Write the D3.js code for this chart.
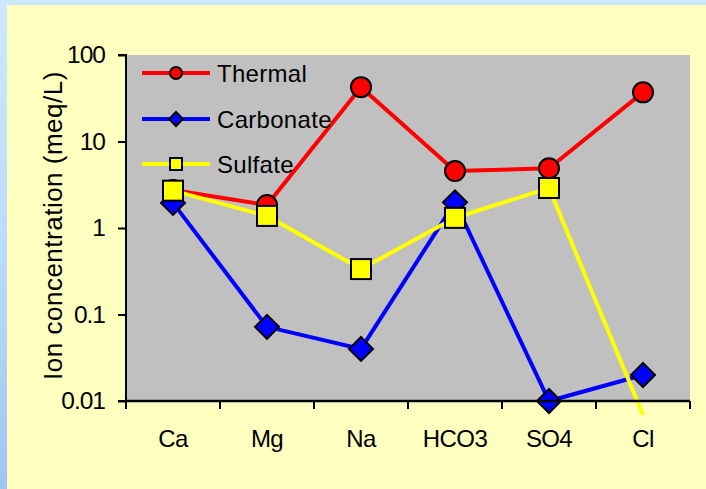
<!DOCTYPE html>
<html><head><meta charset="utf-8">
<script src="https://cdn.jsdelivr.net/npm/d3@7"></script>
<style>
html,body{margin:0;padding:0;width:706px;height:489px;overflow:hidden;
background:linear-gradient(to bottom,#cce8ff 0%,#bcdcff 50%,#9ec6f2 100%);}
svg{display:block;font-family:Arial,"Liberation Sans",sans-serif;}
</style></head><body>
<svg id="c" width="706" height="489"></svg>
<script>
const categories = ["Ca","Mg","Na","HCO3","SO4","Cl"];
const thermal   = [2.75, 1.84, 42.5, 4.55, 4.9, 37];
const carbonate = [1.95, 0.072, 0.040, 1.98, 0.010, 0.020];
const sulfate   = [2.7, 1.38, 0.335, 1.31, 2.9, 0.0069];
const yTicks = [0.01, 0.1, 1, 10, 100];
const yTickLabels = ["0.01","0.1","1","10","100"];
const seriesNames = ["Thermal","Carbonate","Sulfate"];

const svg = d3.select("#c");
svg.append("rect").attr("x",7).attr("y",5).attr("width",699).attr("height",484).attr("fill","#ffffc0");

const L=126, R=690, T=55, B=401;
const x = d3.scaleBand().domain(categories).range([L,R]);
const y = d3.scaleLog().domain([0.01,100]).range([B,T]);

svg.append("rect").attr("x",L).attr("y",T).attr("width",R-L).attr("height",B-T).attr("fill","#c0c0c0");

const series = [
  {name:seriesNames[0], values:thermal, color:"#ff0000", shape:"circle"},
  {name:seriesNames[1], values:carbonate, color:"#0000ff", shape:"diamond"},
  {name:seriesNames[2], values:sulfate, color:"#ffff00", shape:"square"}
];

function marker(g, shape, cx, cy, s, fill){
  if(shape==="circle"){
    g.append("circle").attr("cx",cx).attr("cy",cy).attr("r",s).attr("fill",fill).attr("stroke","#000").attr("stroke-width",2);
  } else if(shape==="diamond"){
    g.append("path").attr("d",`M${cx},${cy-s}L${cx+s},${cy}L${cx},${cy+s}L${cx-s},${cy}Z`).attr("fill",fill).attr("stroke","#000").attr("stroke-width",2).attr("stroke-linejoin","miter");
  } else {
    g.append("rect").attr("x",cx-s).attr("y",cy-s).attr("width",2*s).attr("height",2*s).attr("fill",fill).attr("stroke","#000").attr("stroke-width",2);
  }
}
const size = {circle:10, diamond:12, square:10};

const line = d3.line().x((d,i)=>x(categories[i])+x.bandwidth()/2).y(d=>y(d));
series.forEach(s=>{
  const g = svg.append("g");
  g.append("path").attr("d",line(s.values)).attr("fill","none").attr("stroke",s.color).attr("stroke-width",4);
  s.values.forEach((v,i)=>{
    if(v>=0.01) marker(g, s.shape, x(categories[i])+x.bandwidth()/2, y(v), size[s.shape], s.color);
  });
});

// axes
const yAxis = d3.axisLeft(y).tickValues(yTicks).tickFormat((d,i)=>yTickLabels[i]).tickSize(8).tickPadding(13);
const ga = svg.append("g").attr("transform",`translate(${L},0)`).call(yAxis);
ga.select(".domain").attr("stroke","#000").attr("stroke-width",2).attr("d",`M-8,${T}H0V${B}H-8`);
ga.selectAll(".tick line").attr("stroke","#000").attr("stroke-width",2);
ga.selectAll(".tick text").attr("font-size",24.5).attr("fill","#000").attr("font-family","Arial, 'Liberation Sans', sans-serif").attr("letter-spacing","-1");

const xAxis = d3.axisBottom(x).tickSize(0).tickPadding(29);
const gx = svg.append("g").attr("transform",`translate(0,${B})`).call(xAxis);
gx.select(".domain").attr("stroke","#000").attr("stroke-width",2.5).attr("d",`M${L},0H${R}`);
gx.selectAll(".tick text").attr("font-size",24).attr("fill","#000").attr("font-family","Arial, 'Liberation Sans', sans-serif").attr("letter-spacing","-0.6");
// boundary ticks
gx.selectAll(".bt").data(categories.concat(["_end"])).enter().append("line").attr("class","bt")
  .attr("x1",(d,i)=>L+i*x.bandwidth()).attr("x2",(d,i)=>L+i*x.bandwidth())
  .attr("y1",0).attr("y2",8).attr("stroke","#000").attr("stroke-width",2);

svg.append("text").attr("transform",`translate(62,225.5) rotate(-90)`).attr("text-anchor","middle")
  .attr("font-size",26).attr("letter-spacing","0.5").attr("fill","#000").text("Ion concentration (meq/L)");

// legend
const lg = svg.append("g");
const ly = [73,119,164];
series.forEach((s,i)=>{
  lg.append("line").attr("x1",142).attr("x2",210).attr("y1",ly[i]).attr("y2",ly[i]).attr("stroke",s.color).attr("stroke-width",4);
  marker(lg, s.shape, 176, ly[i], {circle:6,diamond:7,square:6}[s.shape], s.color);
  lg.append("text").attr("x",217).attr("y",ly[i]+9).attr("font-size",24).attr("letter-spacing","0.3").attr("fill","#000").text(s.name);
});
</script>
</body></html>
